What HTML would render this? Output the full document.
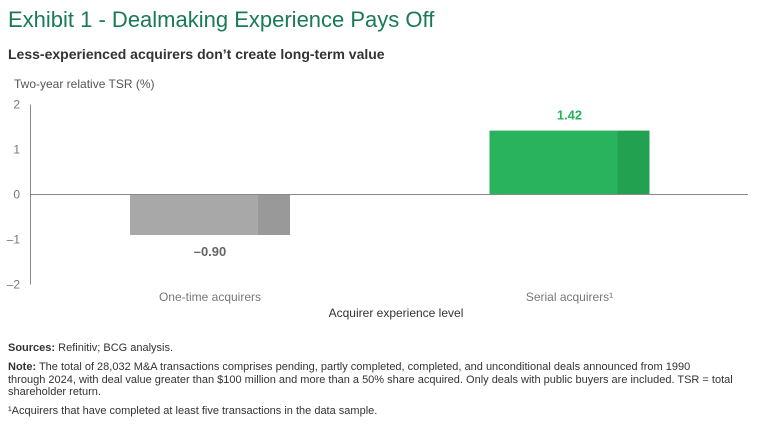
<!DOCTYPE html>
<html><head><meta charset="utf-8"><style>
body{margin:0;width:768px;height:431px;background:#fff;font-family:"Liberation Sans",sans-serif;position:relative;overflow:hidden}
.t{position:absolute;white-space:nowrap}
</style></head><body>
<div class="t" style="left:8px;top:7px;font-size:22px;color:#197a56">Exhibit 1 - Dealmaking Experience Pays Off</div>
<div class="t" style="left:8px;top:46px;font-size:14px;font-weight:bold;color:#333">Less-experienced acquirers don’t create long-term value</div>
<div class="t" style="left:14px;top:77px;font-size:12px;color:#555">Two-year relative TSR (%)</div>
<svg id="chart" width="768" height="330" style="position:absolute;left:0;top:0"></svg>
<div class="t" style="left:8px;top:342px;font-size:11px;color:#333"><b>Sources:</b> Refinitiv; BCG analysis.</div>
<div class="t" style="left:8px;top:361px;font-size:11px;color:#333;line-height:12.5px"><b>Note:</b> The total of 28,032 M&amp;A transactions comprises pending, partly completed, completed, and unconditional deals announced from 1990<br>through 2024, with deal value greater than $100 million and more than a 50% share acquired. Only deals with public buyers are included. TSR = total<br>shareholder return.</div>
<div class="t" style="left:8px;top:405px;font-size:11px;color:#333">¹Acquirers that have completed at least five transactions in the data sample.</div>
<script>
const categories=["One-time acquirers","Serial acquirers¹"];
const values=[-0.90,1.42];
const valueLabels=["–0.90","1.42"];
const ticks=[2,1,0,-1,-2];
const tickLabels=["2","1","0","–1","–2"];
const NS="http://www.w3.org/2000/svg";
const svg=document.getElementById("chart");
const y=v=>194.5-v*45;
const xc=i=>210+i*359.5;
function el(t,a){const e=document.createElementNS(NS,t);for(const k in a)e.setAttribute(k,a[k]);svg.appendChild(e);return e;}
ticks.forEach((t,i)=>{
 const e=el("text",{x:20,y:y(t)+4,"text-anchor":"end","font-size":12,fill:"#777","font-family":"Liberation Sans"});
 e.textContent=tickLabels[i];
 
 
});
const ax=el("line",{x1:30.5,x2:30.5,y1:y(2),y2:y(-2),stroke:"#888"});


const cols=[["#a8a8a8","#999"],["#29b35c","#22a150"]];
values.forEach((v,i)=>{
 const top=Math.min(y(v),y(0)),h=Math.abs(y(v)-y(0));
 const c=xc(i);
 const b=el("rect",{x:c-80,y:top,width:128,height:h,fill:cols[i][0]});
 
 
 const b2=el("rect",{x:c+48,y:top,width:32,height:h,fill:cols[i][1]});
 
 
 const ly=v<0?y(v)+21:y(v)-11;
 const l=el("text",{x:c,y:ly,"text-anchor":"middle","font-size":13,"font-weight":"bold",fill:v<0?"#666":"#29b35c","font-family":"Liberation Sans"});
 l.textContent=valueLabels[i];
 
 
 const cl=el("text",{x:c,y:301,"text-anchor":"middle","font-size":12,fill:"#777","font-family":"Liberation Sans"});
 cl.textContent=categories[i];
 
 
});
const z=el("line",{x1:30,x2:748,y1:y(0),y2:y(0),stroke:"#888"});


const xt=el("text",{x:396,y:317,"text-anchor":"middle","font-size":12,fill:"#333","font-family":"Liberation Sans"});
xt.textContent="Acquirer experience level";


</script>
</body></html>
